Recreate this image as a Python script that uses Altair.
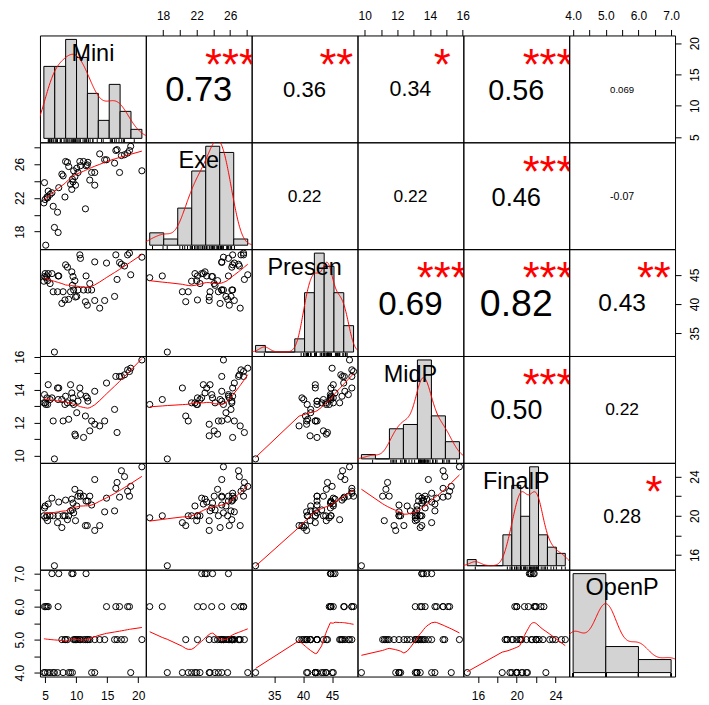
import altair as alt
import pandas as pd
import numpy as np

FONT = "Liberation Sans, Arial, Helvetica, sans-serif"

names = ["Mini", "Exe", "Presen", "MidP", "FinalP", "OpenP"]

Mini = [4.8, 4.9, 5.0, 5.1, 5.3, 5.5, 5.4, 5.8, 6.1, 6.3, 6.5, 7.1, 7.0, 7.2, 7.7, 7.9,
        8.2, 8.3, 8.6, 8.8, 9.1, 9.3, 9.5, 9.4, 9.6, 9.8, 9.9, 10.1, 10.3, 10.6, 10.7,
        11.2, 11.5, 11.6, 11.8, 11.9, 12.2, 12.5, 13.0, 13.0, 13.8, 14.6, 14.9, 16.2,
        16.4, 16.6, 17.0, 17.3, 17.8, 18.3, 18.6, 18.8, 20.6]
Exe = [21.4, 23.8, 21.8, 16.4, 22.1, 22.8, 22.0, 22.4, 22.6, 21.0, 18.5, 17.9, 20.3, 23.2,
       24.8, 24.6, 22.1, 26.3, 26.2, 25.7, 23.6, 23.0, 23.9, 24.2, 25.2, 24.5, 23.5, 25.5,
       25.0, 26.3, 25.8, 26.3, 20.7, 25.8, 25.9, 26.2, 24.1, 25.0, 25.0, 23.5, 27.2, 26.5,
       26.5, 26.1, 27.6, 27.7, 25.0, 27.0, 27.1, 27.3, 27.6, 28.1, 25.2]
Presen = [43.9, 44.7, 45.2, 44.5, 44.8, 45.2, 44.0, 43.5, 45.2, 42.1, 31.8, 44.8, 42.1, 44.8,
          40.1, 42.1, 40.7, 46.7, 46.3, 40.8, 42.1, 45.5, 44.7, 43.2, 42.4, 44.0, 41.2, 41.3,
          42.4, 48.4, 47.8, 42.4, 40.4, 44.8, 39.8, 42.4, 43.5, 42.4, 47.2, 40.6, 39.3, 40.6,
          47.0, 41.3, 48.4, 44.2, 47.1, 46.8, 46.5, 48.4, 48.7, 45.0, 48.0]
MidP = [13.2, 13.7, 13.2, 13.1, 13.5, 14.3, 13.1, 13.4, 13.5, 12.1, 9.8, 13.4, 14.1, 14.1,
        13.4, 12.1, 13.1, 13.6, 13.2, 12.2, 14.3, 13.8, 13.5, 13.2, 13.1, 11.3, 11.2, 12.6,
        13.3, 14.1, 13.7, 11.1, 12.4, 13.6, 13.5, 13.3, 11.5, 12.1, 13.9, 11.9, 11.8, 12.1,
        14.4, 12.8, 14.8, 11.4, 14.8, 14.8, 14.9, 15.2, 15.1, 15.3, 15.8]
FinalP = [20.0, 20.8, 21.0, 19.8, 20.0, 21.2, 19.5, 20.0, 21.8, 20.0, 14.9, 20.0, 19.3, 21.4,
          18.8, 20.0, 20.0, 21.6, 19.6, 20.0, 20.5, 21.7, 21.3, 20.6, 20.3, 22.7, 19.5, 21.0,
          22.0, 22.3, 22.0, 22.0, 19.0, 21.5, 19.0, 21.5, 22.0, 21.1, 23.7, 18.5, 19.0, 20.4,
          21.8, 20.5, 22.8, 23.4, 21.9, 24.6, 24.0, 22.5, 22.0, 23.0, 25.0]
OpenP = [4, 6, 4, 6, 6, 6, 4, 4, 7, 4, 4, 6, 4, 7, 5, 4, 5, 5, 5, 4, 4, 7, 7, 4, 5, 5, 5,
         5, 5, 5, 5, 5, 5, 7, 5, 5, 5, 4, 5, 4, 5, 5, 6, 5, 6, 5, 6, 5, 5, 6, 6, 4, 5]

# histogram breaks (R "FD" breaks)
breaks = {
    "Mini": [4, 6, 8, 10, 12, 14, 16, 18, 20, 22],
    "Exe": [16, 18, 20, 22, 24, 26, 28, 30],
    "Presen": [30, 32, 34, 36, 38, 40, 42, 44, 46, 48, 50],
    "MidP": [9, 10, 11, 12, 13, 14, 15, 16],
    "FinalP": [14, 15, 16, 17, 18, 19, 20, 21, 22, 23, 24, 25],
    "OpenP": [4, 5, 6, 7],
}

# correlation panel texts (upper triangle, row, col)
cor_pairs = [(0, 1), (0, 2), (0, 3), (0, 4), (0, 5), (1, 2), (1, 3), (1, 4), (1, 5),
             (2, 3), (2, 4), (2, 5), (3, 4), (3, 5), (4, 5)]
cor_text = ["0.73", "0.36", "0.34", "0.56", "0.069", "0.22", "0.22", "0.46", "-0.07",
            "0.69", "0.82", "0.43", "0.50", "0.22", "0.28"]
cor_abs = [0.73, 0.36, 0.34, 0.56, 0.069, 0.22, 0.22, 0.46, 0.07,
           0.69, 0.82, 0.43, 0.50, 0.22, 0.28]
cor_stars = ["***", "**", "*", "***", "", "", "", "***", "",
             "***", "***", "**", "***", "", "*"]

tick_values = {
    "Mini": [5, 10, 15, 20],
    "Exe": [18, 20, 22, 24, 26, 28],
    "Presen": [35, 40, 45],
    "MidP": [10, 11, 12, 13, 14, 15, 16],
    "FinalP": [16, 18, 20, 22, 24],
    "OpenP": [4.0, 4.5, 5.0, 5.5, 6.0, 6.5, 7.0],
}
tick_labels = {
    "Mini": [5, 10, 15, 20],
    "Exe": [18, 22, 26],
    "Presen": [35, 40, 45],
    "MidP": [10, 12, 14, 16],
    "FinalP": [16, 20, 24],
    "OpenP": [4, 5, 6, 7],
}

df = pd.DataFrame({"Mini": Mini, "Exe": Exe, "Presen": Presen, "MidP": MidP,
                   "FinalP": FinalP, "OpenP": OpenP})
N = len(df)
W = 106
H = 107
AX_FS = 12
LAB_FS = 23.5

CHAR_W = {".": 0.278, "-": 0.333}


def str_em(s):
    return sum(CHAR_W.get(ch, 0.556) for ch in s)


def rdom(v):
    lo, hi = float(df[v].min()), float(df[v].max())
    r = hi - lo
    return [lo - 0.04 * r, hi + 0.04 * r]


def sc(dom):
    return alt.Scale(domain=dom, nice=False, zero=False)


UNIT = [0.0, 1.0]


def make_axis(v, orient):
    labs = ",".join(str(x) for x in tick_labels[v])
    kw = dict(orient=orient, values=tick_values[v],
              labelExpr="indexof([%s], datum.value) >= 0 ? datum.label : ''" % labs,
              tickSize=6, tickColor="black", tickWidth=1, domain=False, grid=False,
              labelFont=FONT, labelFontSize=AX_FS, labelColor="black",
              labelFlush=False, labelOverlap=False, title=None, ticks=True,
              minExtent=0)
    if v == "OpenP":
        kw["format"] = ".1f"
    if orient == "top":
        kw.update(labelAngle=0, labelPadding=7, labelAlign="center", labelBaseline="bottom")
    elif orient == "bottom":
        kw.update(labelAngle=0, labelPadding=8, labelAlign="center", labelBaseline="top")
    elif orient == "left":
        kw.update(labelAngle=270, labelPadding=7, labelAlign="center", labelBaseline="bottom")
    else:
        kw.update(labelAngle=270, labelPadding=8, labelAlign="center", labelBaseline="top")
    return alt.Axis(**kw)


def bw_nrd0(x):
    x = np.asarray(x, float)
    sd = x.std(ddof=1)
    q75, q25 = np.percentile(x, [75, 25])
    lo = min(sd, (q75 - q25) / 1.34)
    return 0.9 * lo * len(x) ** (-0.2)


def scatter_panel(i, j):
    xv, yv = names[j], names[i]
    xa = make_axis(xv, "bottom") if (i == 5 and j in (0, 2, 4)) else None
    ya = make_axis(yv, "left") if (j == 0 and i in (1, 3, 5)) else None
    pts = alt.Chart(df).mark_point(shape="circle", filled=False, color="black", size=38,
                                   strokeWidth=1, opacity=1).encode(
        x=alt.X(f"{xv}:Q", scale=sc(rdom(xv)), axis=xa),
        y=alt.Y(f"{yv}:Q", scale=sc(rdom(yv)), axis=ya),
    )
    lo = alt.Chart(df).transform_loess(xv, yv, bandwidth=2 / 3).mark_line(
        color="red", strokeWidth=1, clip=True).encode(
        x=alt.X(f"{xv}:Q", scale=sc(rdom(xv)), axis=None),
        y=alt.Y(f"{yv}:Q", scale=sc(rdom(yv)), axis=None),
    )
    return alt.layer(pts, lo).resolve_scale(x="independent", y="independent").properties(
        width=W, height=H)


def upper_panel(i, j):
    xv, yv = names[j], names[i]
    k = cor_pairs.index((i, j))
    txt, ra, st = cor_text[k], cor_abs[k], cor_stars[k]
    xa = make_axis(xv, "top") if (i == 0 and j in (1, 3, 5)) else None
    ya = make_axis(yv, "right") if (j == 5 and i in (0, 2, 4)) else None
    base = alt.Chart(df).mark_point(opacity=0).encode(
        x=alt.X(f"{xv}:Q", scale=sc(rdom(xv)), axis=xa),
        y=alt.Y(f"{yv}:Q", scale=sc(rdom(yv)), axis=ya),
    )
    F = 0.8 * W / str_em(txt)
    fs_num = F * (ra + 0.3) / 1.3
    tdf = pd.DataFrame({"u": [0.5], "v": [0.5], "t": [txt]})
    num = alt.Chart(tdf).mark_text(font=FONT, fontSize=fs_num, color="black",
                                   align="center", baseline="middle",
                                   dy=round(0.06 * fs_num), clip=True).encode(
        x=alt.X("u:Q", scale=sc(UNIT), axis=None),
        y=alt.Y("v:Q", scale=sc(UNIT), axis=None),
        text="t:N",
    )
    layers = [base, num]
    if st:
        sdf = pd.DataFrame({"u": [0.8], "v": [0.8], "t": [st]})
        star = alt.Chart(sdf).mark_text(font=FONT, fontSize=F, color="red",
                                        align="center", baseline="middle",
                                        dy=round(0.24 * F), clip=True).encode(
            x=alt.X("u:Q", scale=sc(UNIT), axis=None),
            y=alt.Y("v:Q", scale=sc(UNIT), axis=None),
            text="t:N",
        )
        layers.append(star)
    return alt.layer(*layers).resolve_scale(x="independent", y="independent").properties(
        width=W, height=H)


def diag_panel(k):
    v = names[k]
    b = breaks[v]
    counts = pd.cut(df[v], bins=b, right=True, include_lowest=True).value_counts(
        sort=False).values
    widths = np.diff(b)
    dens = counts / (N * widths)
    M = float(dens.max())
    hx = [b[0] - 0.04 * (b[-1] - b[0]), b[-1] + 0.04 * (b[-1] - b[0])]
    hy = [-0.04 * M, 1.04 * M]
    hdf = pd.DataFrame({"b0": b[:-1], "b1": b[1:], "d": dens, "z": 0.0})
    bars = alt.Chart(hdf).mark_rect(fill="#D3D3D3", stroke="black", strokeWidth=1).encode(
        x=alt.X("b0:Q", scale=sc(hx), axis=None), x2="b1:Q",
        y=alt.Y("d:Q", scale=sc(hy), axis=None), y2="z:Q",
    )
    bw = bw_nrd0(df[v])
    ext = [float(df[v].min()) - 3 * bw, float(df[v].max()) + 3 * bw]
    dline = alt.Chart(df).transform_density(
        v, as_=[v, "density"], bandwidth=bw, extent=ext, steps=300).mark_line(
        color="red", strokeWidth=1, clip=True).encode(
        x=alt.X(f"{v}:Q", scale=sc(hx), axis=None),
        y=alt.Y("density:Q", scale=sc(hy), axis=None),
    )
    rdf = pd.DataFrame({"x": df[v], "y0": hy[0], "y1": hy[0] + 0.03 * (hy[1] - hy[0])})
    rug = alt.Chart(rdf).mark_rule(color="black", strokeWidth=1).encode(
        x=alt.X("x:Q", scale=sc(hx), axis=None),
        y=alt.Y("y0:Q", scale=sc(hy), axis=None), y2="y1:Q",
    )
    ldf = pd.DataFrame({"u": [0.5], "v": [0.5 + 1 / 3], "t": [v]})
    lab = alt.Chart(ldf).mark_text(font=FONT, fontSize=LAB_FS, color="black",
                                   align="center", baseline="middle", dy=1).encode(
        x=alt.X("u:Q", scale=sc(UNIT), axis=None),
        y=alt.Y("v:Q", scale=sc(UNIT), axis=None),
        text="t:N",
    )
    return alt.layer(bars, dline, rug, lab).resolve_scale(
        x="independent", y="independent").properties(width=W, height=H)


panels = []
for i in range(6):
    for j in range(6):
        if i == j:
            panels.append(diag_panel(i))
        elif i > j:
            panels.append(scatter_panel(i, j))
        else:
            panels.append(upper_panel(i, j))

chart = alt.concat(*panels, columns=6, spacing=0, bounds="flush").configure_view(
    stroke="black", strokeWidth=1).properties(
    background="white", padding={"left": 5, "top": 0, "right": 0, "bottom": 0})

chart.save("out.html", embed_options={"renderer": "svg", "actions": False})
